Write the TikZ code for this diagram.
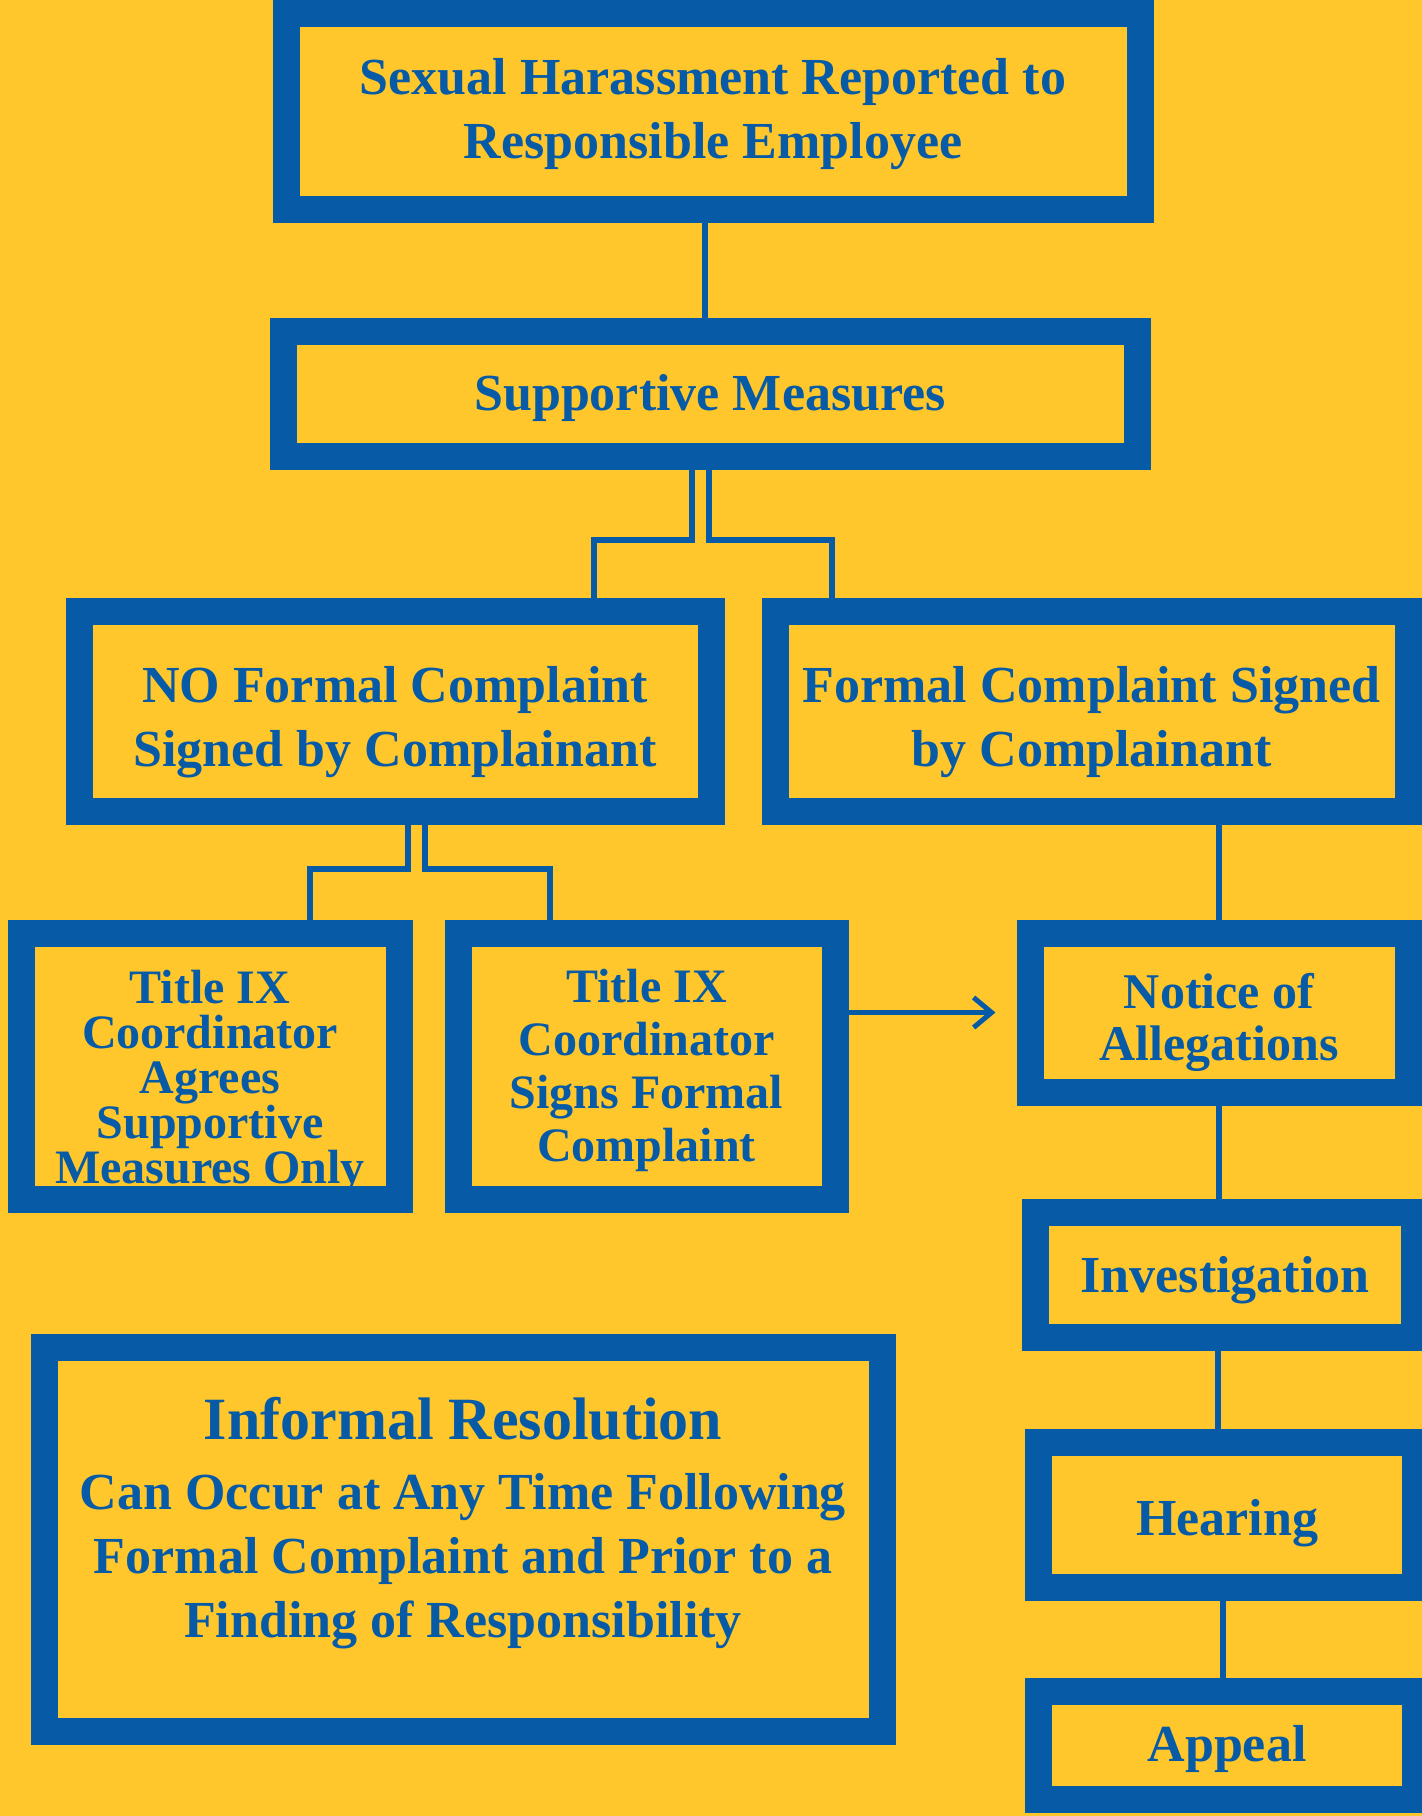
\documentclass[tikz,border=0pt]{standalone}
\usepackage{fontspec}
\setmainfont{Liberation Serif}
\usetikzlibrary{calc,arrows.meta}

\definecolor{ixblue}{RGB}{7,91,166}
\definecolor{ixgold}{RGB}{255,199,44}

\tikzset{
  stage/.style={draw=ixblue, line width=13.5pt, fill=ixgold, text=ixblue,
    font=\bfseries\fontsize{26}{32}\selectfont, align=center, inner sep=0pt,
    text depth=1pt},
  link/.style={draw=ixblue, line width=3pt},
}

\begin{document}
\begin{tikzpicture}[x=0.5pt,y=-0.5pt]

  % Page frame, one unit is one pixel of the original
  \useasboundingbox (0,0) rectangle (1422,1816);
  \clip (0,0) rectangle (1422,1816);
  \fill[ixgold] (0,0) rectangle (1422,1816);

  % Top of the chart
  \node[stage, text depth=3pt, minimum width=427pt, minimum height=98pt] (report) at (713,111)
    {Sexual Harassment Reported to\\Responsible Employee};
  \node[stage, minimum width=427pt, minimum height=62.5pt] (support) at (710,393.5)
    {Supportive Measures};

  % The two ways after supportive measures
  \node[stage, text depth=0pt, text height=55pt, minimum width=316pt, minimum height=100pt] (noformal) at (395,711)
    {NO Formal Complaint\\Signed by Complainant};
  \node[stage, text depth=0pt, text height=55pt, minimum width=316.5pt, minimum height=100pt] (formal) at (1091.5,711)
    {Formal Complaint Signed\\by Complainant};

  % Title IX coordinator boxes
  \node[stage, font=\bfseries\fontsize{24}{22.5}\selectfont, text depth=0pt, text height=117pt,
    minimum width=189pt, minimum height=133pt] (agrees) at (210,1066)
    {Title IX\\Coordinator\\Agrees\\Supportive\\Measures Only};
  \node[stage, font=\bfseries\fontsize{24}{26.5}\selectfont,
    minimum width=188.5pt, minimum height=133pt] (signs) at (646.5,1066)
    {Title IX\\Coordinator\\Signs Formal\\Complaint};

  % Right column, formal process
  \node[stage, font=\bfseries\fontsize{25}{26}\selectfont, text depth=0pt, text height=47.5pt,
    minimum width=189pt, minimum height=79.5pt] (notice) at (1219,1012.5)
    {Notice of\\Allegations};
  \node[stage, minimum width=189.5pt, minimum height=62.75pt] (investigation) at (1225,1275)
    {Investigation};
  \node[stage, text depth=0pt, text height=21pt, minimum width=188.5pt, minimum height=72.5pt] (hearing) at (1227,1514.5)
    {Hearing};
  \node[stage, text depth=2pt, minimum width=188.5pt, minimum height=54pt] (appeal) at (1227,1745)
    {Appeal};

  % Informal resolution box
  \node[stage, text depth=22pt, minimum width=419pt, minimum height=192pt] (informal) at (463,1539)
    {{\fontsize{30}{36}\selectfont Informal Resolution}\\[3pt]
     Can Occur at Any Time Following\\Formal Complaint and Prior to a\\Finding of Responsibility};

  % report to supportive measures
  \draw[link] ($(report.south)+(-8,0)$) -- ($(support.north)+(-5,0)$);

  % supportive measures splits in two
  \coordinate (forkL) at (692,540);
  \coordinate (forkR) at (709,540);
  \draw[link] (support.south -| forkL) -- (forkL) -| ($(noformal.north)+(199,0)$);
  \draw[link] (support.south -| forkR) -- (forkR) -| ($(formal.north)+(-259.5,0)$);

  % no formal complaint splits in two
  \coordinate (subL) at (408,869);
  \coordinate (subR) at (425,869);
  \draw[link] (noformal.south -| subL) -- (subL) -| ($(agrees.north)+(100,0)$);
  \draw[link] (noformal.south -| subR) -- (subR) -| ($(signs.north)+(-96.5,0)$);

  % formal complaint to notice
  \draw[link] (formal.south -| notice.north) -- (notice.north);

  % coordinator signs, goes on to notice
  \draw[link, line width=2.5pt, -{Straight Barb[length=9pt,width=15pt]}]
    (signs.east |- notice.west) -- ($(notice.west)+(-21,0)$);

  % down the right column
  \draw[link] (notice.south) -- (notice.south |- investigation.north);
  \draw[link] ($(investigation.south)+(-7,0)$) -- ($(investigation.south |- hearing.north)+(-7,0)$);
  \draw[link] ($(hearing.south)+(-4,0)$) -- ($(hearing.south |- appeal.north)+(-4,0)$);

\end{tikzpicture}
\end{document}
